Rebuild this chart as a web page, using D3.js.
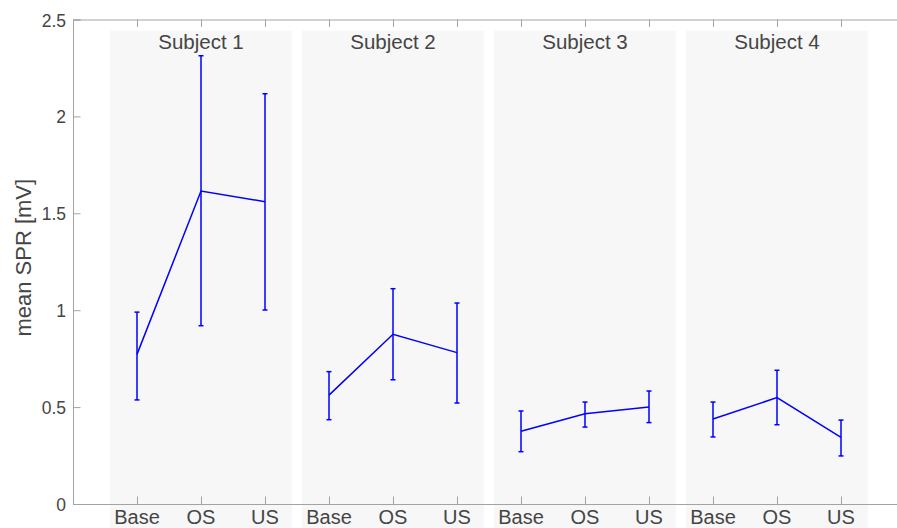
<!DOCTYPE html>
<html>
<head>
<meta charset="utf-8">
<script src="https://cdn.jsdelivr.net/npm/d3@7"></script>
<style>
  html, body { margin: 0; padding: 0; background: #ffffff; }
  svg { display: block; }
  text { font-family: "Liberation Sans", Arial, Helvetica, sans-serif; fill: #454545; }
</style>
</head>
<body>
<svg id="chart" width="897" height="528"></svg>
<script>
// Mean skin potential response per subject and condition, with error bars
const subjects = ["Subject 1", "Subject 2", "Subject 3", "Subject 4"];
const conditions = ["Base", "OS", "US"];
const means = [
  [0.772, 1.615, 1.560],
  [0.562, 0.876, 0.781],
  [0.375, 0.466, 0.500],
  [0.439, 0.549, 0.344]
];
const upper = [
  [0.990, 2.313, 2.117],
  [0.683, 1.111, 1.037],
  [0.480, 0.526, 0.583],
  [0.526, 0.690, 0.433]
];
const lower = [
  [0.537, 0.920, 1.001],
  [0.435, 0.641, 0.521],
  [0.270, 0.397, 0.420],
  [0.346, 0.409, 0.248]
];
const yTicks = [0, 0.5, 1, 1.5, 2, 2.5];
const yLabel = "mean SPR [mV]";

const svg = d3.select("#chart");
const plotL = 73, plotR = 905, plotT = 19.5, plotB = 504;

const x = d3.scaleLinear().domain([0, 13]).range([plotL, plotR]);
const y = d3.scaleLinear().domain([0, 2.5]).range([plotB, plotT]);

const axisColor = "#a3a3a3";
const lineColor = "#0000ff";

// Panel backgrounds, one per subject
const panelTop = 2.442;
subjects.forEach((s, i) => {
  const c = 3 * i + 2;
  svg.append("rect")
    .attr("x", x(c - 1.42))
    .attr("y", y(panelTop))
    .attr("width", x(c + 1.42) - x(c - 1.42))
    .attr("height", y(-0.2) - y(panelTop))
    .attr("fill", "#f7f7f7");
  svg.append("text")
    .attr("x", x(c))
    .attr("y", 49)
    .attr("text-anchor", "middle")
    .attr("font-size", 20.5)
    .text(s);
});

// Tick positions: each condition within each subject
const xTickPos = [];
const xTickLab = [];
subjects.forEach((s, i) => conditions.forEach((c, j) => {
  xTickPos.push(3 * i + j + 1);
  xTickLab.push(c);
}));

// Axes (box on: ticks pointing inward on all four sides)
const gx = svg.append("g").attr("transform", `translate(0,${plotB})`)
  .call(d3.axisBottom(x).tickValues(xTickPos).tickSize(-7.5).tickPadding(0).tickFormat(() => ""));
const gxTop = svg.append("g").attr("transform", `translate(0,${plotT})`)
  .call(d3.axisTop(x).tickValues(xTickPos).tickSize(-7.5).tickFormat(() => ""));
const gy = svg.append("g").attr("transform", `translate(${plotL},0)`)
  .call(d3.axisLeft(y).tickValues(yTicks).tickSize(-7.5).tickFormat(() => ""));
const gyR = svg.append("g").attr("transform", `translate(${plotR},0)`)
  .call(d3.axisRight(y).tickValues(yTicks).tickSize(-7.5).tickFormat(() => ""));
[gx, gxTop, gy, gyR].forEach(g => {
  g.selectAll(".domain").attr("stroke", axisColor).attr("stroke-width", 1);
  g.selectAll(".tick line").attr("stroke", axisColor).attr("stroke-width", 1);
});

// Tick labels
svg.append("g").selectAll("text").data(xTickPos).join("text")
  .attr("x", d => x(d))
  .attr("y", 524)
  .attr("text-anchor", "middle")
  .attr("font-size", 20)
  .text((d, k) => xTickLab[k]);
svg.append("g").selectAll("text").data(yTicks).join("text")
  .attr("x", 66)
  .attr("y", d => y(d) + 7)
  .attr("text-anchor", "end")
  .attr("font-size", 17.5)
  .text(d => d3.format("")(d));

svg.append("text")
  .attr("transform", `translate(31,${(plotT + plotB) / 2 - 4}) rotate(-90)`)
  .attr("text-anchor", "middle")
  .attr("font-size", 22)
  .text(yLabel);

// Lines and error bars for each subject
const cap = 2.5;
subjects.forEach((s, i) => {
  const pts = conditions.map((c, j) => ({
    xv: 3 * i + j + 1, m: means[i][j], hi: upper[i][j], lo: lower[i][j]
  }));
  svg.append("path")
    .datum(pts)
    .attr("fill", "none")
    .attr("stroke", lineColor)
    .attr("stroke-width", 1.5)
    .attr("d", d3.line().x(d => x(d.xv)).y(d => y(d.m)));
  const eb = svg.append("g").attr("stroke", lineColor).attr("stroke-width", 1.5).attr("fill", "none");
  pts.forEach(d => {
    eb.append("line").attr("x1", x(d.xv)).attr("x2", x(d.xv)).attr("y1", y(d.lo)).attr("y2", y(d.hi));
    eb.append("line").attr("x1", x(d.xv) - cap).attr("x2", x(d.xv) + cap).attr("y1", y(d.lo)).attr("y2", y(d.lo));
    eb.append("line").attr("x1", x(d.xv) - cap).attr("x2", x(d.xv) + cap).attr("y1", y(d.hi)).attr("y2", y(d.hi));
  });
});
</script>
</body>
</html>
